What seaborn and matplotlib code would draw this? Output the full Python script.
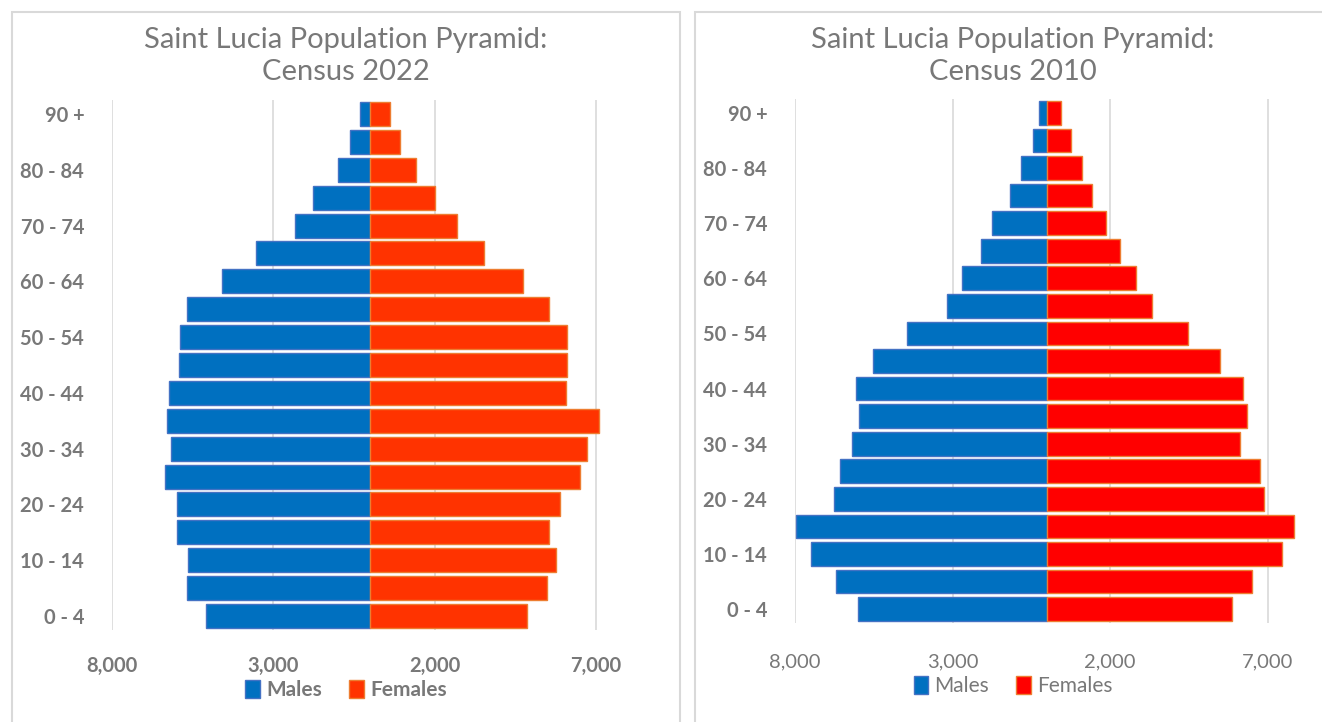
import matplotlib
matplotlib.use("Agg")
import matplotlib.pyplot as plt
import seaborn as sns
import pandas as pd
from matplotlib.patches import Rectangle
from matplotlib.ticker import FuncFormatter

# ---- data ----
age_groups = ["90 +", "85 - 89", "80 - 84", "75 - 79", "70 - 74", "65 - 69", "60 - 64",
              "55 - 59", "50 - 54", "45 - 49", "40 - 44", "35 - 39", "30 - 34",
              "25 - 29", "20 - 24", "15 - 19", "10 - 14", "5 - 9", "0 - 4"]

males_2022 = [300, 620, 1000, 1770, 2340, 3540, 4580, 5680, 5900, 5930, 6240, 6310,
              6180, 6350, 5970, 5990, 5650, 5660, 5080]
females_2022 = [610, 930, 1430, 2010, 2700, 3540, 4740, 5550, 6110, 6110, 6090, 7090,
                6720, 6500, 5880, 5550, 5770, 5490, 4860]

males_2010 = [260, 460, 820, 1160, 1740, 2090, 2690, 3190, 4450, 5510, 6050, 5970,
              6180, 6570, 6760, 7960, 7500, 6690, 5990]
females_2010 = [430, 760, 1120, 1440, 1880, 2310, 2820, 3330, 4490, 5480, 6210, 6350,
                6130, 6760, 6900, 7830, 7470, 6500, 5860]

x_ticks = [-8000, -3000, 2000, 7000]
titles = ["Saint Lucia Population Pyramid:\nCensus 2022",
          "Saint Lucia Population Pyramid:\nCensus 2010"]
legend_labels = ["Males", "Females"]

W, H = 1322, 722
sns.set_theme(style="white")
plt.rcParams["font.family"] = ["Lato", "DejaVu Sans"]

fig = plt.figure(figsize=(W / 100, H / 100), dpi=100)
fig.patch.set_facecolor("white")

TXT = "#787878"
GRID = "#d9d9d9"

panels = [
    dict(male=males_2022, female=females_2022, title=titles[0],
         ax_px=(112, 100, 628, 630), box=(12, 12, 680, 740), cx=346,
         mcol="#0070C0", fcol="#FF3300", bold_x=True, bold_leg=True,
         tick_y=659, leg_y=690, title_y=56),
    dict(male=males_2010, female=females_2010, title=titles[1],
         ax_px=(795, 99, 1299, 623), box=(695, 12, 1340, 740), cx=1013,
         mcol="#0070C0", fcol="#FF0000", bold_x=False, bold_leg=False,
         tick_y=655, leg_y=686, title_y=56),
]

for p in panels:
    # chart area border
    bx0, by0, bx1, by1 = p["box"]
    fig.patches.append(Rectangle((bx0 / W, 1 - by1 / H), (bx1 - bx0) / W, (by1 - by0) / H,
                                 transform=fig.transFigure, fill=False,
                                 edgecolor=GRID, linewidth=1.5, zorder=0))
    x0, y0, x1, y1 = p["ax_px"]
    ax = fig.add_axes([x0 / W, 1 - y1 / H, (x1 - x0) / W, (y1 - y0) / H])
    df = pd.DataFrame({"age": age_groups,
                       "male": [-v for v in p["male"]],
                       "female": p["female"]})
    sns.barplot(data=df, x="male", y="age", order=age_groups, orient="h",
                color=p["mcol"], saturation=1, width=0.86, ax=ax,
                edgecolor="#4472C4", linewidth=1.0)
    sns.barplot(data=df, x="female", y="age", order=age_groups, orient="h",
                color=p["fcol"], saturation=1, width=0.86, ax=ax,
                edgecolor="#ED7D31", linewidth=1.0)
    ax.set_xlim(-8000, 8000)
    ax.set_ylim(18.5, -0.5)
    ax.set_xticks(x_ticks)
    ax.xaxis.set_major_formatter(FuncFormatter(lambda v, pos: f"{abs(v):,.0f}"))
    ax.grid(axis="x", color=GRID, linewidth=1.2)
    ax.set_axisbelow(True)
    for s in ax.spines.values():
        s.set_visible(False)
    ax.set_xlabel("")
    ax.set_ylabel("")
    ax.set_yticks(range(0, 19, 2))
    ax.set_yticklabels(age_groups[::2])
    ax.tick_params(axis="y", length=0, pad=20, labelsize=14.5, labelcolor=TXT)
    for t in ax.get_yticklabels():
        t.set_fontweight("bold")
    ax.tick_params(axis="x", length=0, labelsize=14.5, labelcolor=TXT,
                   pad=(p["tick_y"] - y1) - 10)
    for t in ax.get_xticklabels():
        t.set_fontweight("bold" if p["bold_x"] else "normal")
    cx = p["cx"] / W
    fig.text(cx, 1 - p["title_y"] / H, p["title"], ha="center", va="center",
             fontsize=21, color=TXT, linespacing=1.25)
    handles = [Rectangle((0, 0), 1, 1, facecolor=p["mcol"], edgecolor="#4472C4"),
               Rectangle((0, 0), 1, 1, facecolor=p["fcol"], edgecolor="#ED7D31")]
    lg = fig.legend(handles, legend_labels, loc="center", ncol=2,
                    bbox_to_anchor=(cx, 1 - p["leg_y"] / H), frameon=False,
                    handlelength=0.7, handleheight=1.0,
                    handletextpad=0.3, columnspacing=1.3,
                    prop={"size": 15, "weight": "bold" if p["bold_leg"] else "normal"})
    for t in lg.get_texts():
        t.set_color(TXT)

fig.savefig("out.png", dpi=100, facecolor="white")
